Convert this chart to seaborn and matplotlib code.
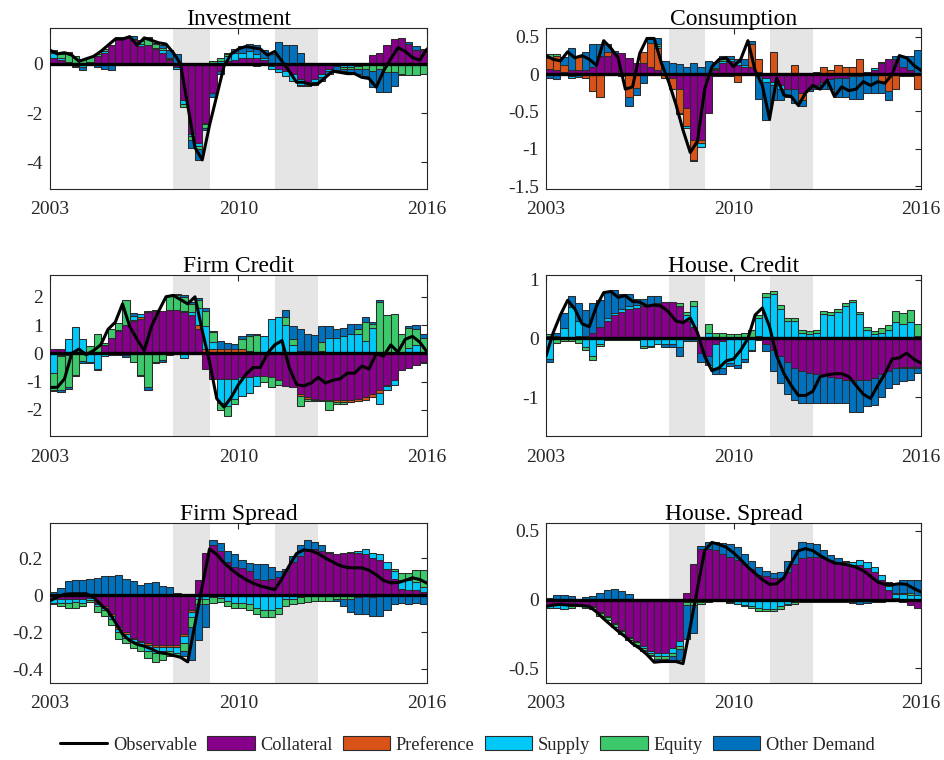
import numpy as np
import matplotlib
matplotlib.use("Agg")
import matplotlib.pyplot as plt
from matplotlib.patches import Patch, Rectangle
from matplotlib.lines import Line2D
import seaborn as sns

# ------------------------------------------------------------------ data
component_names = ["Collateral", "Preference", "Supply", "Equity", "Other Demand"]
component_colors = ["#87008a", "#d95319", "#00c8f8", "#3cc96c", "#0072bd"]
tick_years = ["2003", "2010", "2016"]
tick_quarters = [0, 26, 52]           # quarter index of the year ticks
shade_spans = [(17, 22), (31, 37)]     # shaded periods (quarter index)

# ---- Investment
inv_collateral = [0.25, 0.15, 0.08, 0.03, 0.0, 0.07, 0.3, 0.45, 0.75, 1.0, 1.05, 1.0, 0.7, 0.75, 0.6, 0.45, 0.15, -0.15, -1.45, -2.85, -3.2, -2.4, -1.2, -0.3, 0.1, 0.15, 0.25, 0.25, 0.25, 0.15, -0.1, -0.2, -0.3, -0.4, -0.6, -0.75, -0.6, -0.4, -0.2, 0.05, 0.0, 0.0, 0.0, 0.05, 0.35, 0.45, 0.75, 1.0, 1.05, 0.8, 0.55, 0.55]
inv_preference = [0.0, 0.0, 0.0, 0.0, 0.0, 0.0, 0.0, 0.0, 0.0, 0.0, 0.0, 0.0, 0.0, 0.0, 0.0, 0.0, 0.0, 0.0, 0.0, 0.0, 0.0, 0.0, 0.0, 0.0, 0.0, 0.0, 0.0, 0.0, 0.0, 0.0, 0.0, 0.0, 0.0, 0.0, 0.0, 0.0, 0.0, 0.0, 0.0, 0.0, 0.0, 0.0, 0.0, 0.0, 0.0, 0.0, 0.0, 0.0, 0.0, 0.0, 0.0, 0.0]
inv_supply = [0.2, 0.1, -0.02, -0.1, -0.15, -0.02, -0.02, 0.05, -0.02, 0.02, 0.0, 0.02, 0.1, 0.03, 0.05, 0.1, 0.05, -0.05, -0.2, -0.1, -0.15, -0.05, 0.05, 0.1, 0.2, 0.3, 0.2, 0.25, 0.15, 0.1, -0.1, -0.12, -0.2, -0.3, -0.25, -0.1, -0.15, -0.15, -0.1, -0.1, -0.15, -0.15, -0.1, -0.05, -0.05, 0.0, 0.0, 0.0, 0.0, 0.0, 0.0, 0.0]
inv_equity = [0.05, 0.15, 0.35, 0.3, 0.2, 0.2, 0.1, 0.1, 0.03, 0.05, -0.05, -0.03, 0.12, 0.25, 0.15, 0.1, 0.05, 0.05, -0.1, -0.15, -0.1, -0.15, 0.05, 0.15, 0.1, 0.0, -0.03, -0.05, -0.08, -0.05, 0.0, 0.0, 0.0, 0.0, -0.05, 0.0, 0.0, 0.0, 0.0, 0.0, -0.05, -0.05, -0.1, -0.15, -0.25, -0.2, -0.35, -0.35, -0.4, -0.45, -0.45, -0.4]
inv_other = [0.05, -0.03, 0.04, -0.05, -0.1, -0.05, -0.1, -0.2, -0.22, -0.05, 0.03, 0.12, 0.05, 0.05, 0.03, 0.1, 0.3, 0.35, 0.05, -0.3, -0.45, -0.1, -0.15, -0.1, 0.05, 0.15, 0.25, 0.3, 0.35, 0.3, 0.4, 0.9, 0.75, 0.75, 0.45, -0.05, -0.1, -0.15, -0.1, -0.15, -0.1, -0.15, -0.2, -0.3, -0.65, -0.95, -0.8, -0.55, -0.05, 0.1, 0.15, 0.05]
inv_observable = [0.55, 0.4, 0.45, 0.35, 0.1, 0.2, 0.3, 0.5, 0.75, 1.0, 1.0, 1.1, 0.75, 1.05, 0.95, 0.85, 0.8, 0.45, 0.0, -1.7, -3.4, -3.9, -2.5, -1.3, -0.1, 0.4, 0.6, 0.7, 0.65, 0.6, 0.35, 0.5, 0.1, -0.3, -0.75, -0.75, -0.85, -0.8, -0.55, -0.3, -0.35, -0.4, -0.4, -0.55, -0.6, -0.95, -0.3, 0.2, 0.65, 0.5, 0.25, 0.15, 0.6]

# ---- Consumption
con_collateral = [0.07, 0.05, 0.03, 0.05, 0.05, 0.05, 0.1, 0.25, 0.25, 0.28, 0.28, 0.22, 0.15, 0.15, 0.1, 0.05, 0.0, -0.05, -0.2, -0.45, -0.88, -0.88, -0.52, 0.05, 0.15, 0.18, 0.12, 0.1, 0.1, 0.03, -0.05, -0.1, -0.15, -0.2, -0.2, -0.25, -0.2, -0.15, -0.1, -0.07, -0.05, -0.05, -0.03, -0.03, 0.03, 0.05, 0.15, 0.2, 0.2, 0.1, 0.05, 0.0]
con_preference = [0.15, 0.2, 0.1, -0.03, 0.18, -0.05, -0.22, -0.3, 0.05, 0.0, 0.0, -0.3, -0.18, 0.15, 0.32, 0.3, -0.05, -0.15, -0.32, -0.25, -0.27, -0.04, 0.0, -0.02, -0.03, -0.02, -0.1, 0.0, 0.3, 0.17, 0.0, 0.3, 0.0, 0.0, 0.12, -0.1, 0.0, 0.03, 0.1, 0.05, 0.13, 0.1, 0.1, 0.2, 0.0, 0.0, -0.1, -0.22, -0.2, -0.03, -0.02, -0.2]
con_supply = [0.0, 0.0, 0.0, -0.02, 0.0, 0.0, 0.0, 0.0, 0.0, 0.0, 0.0, 0.0, 0.0, 0.0, 0.0, 0.03, 0.0, 0.0, -0.01, -0.02, -0.02, -0.05, 0.0, 0.02, 0.03, 0.02, 0.05, 0.03, 0.0, -0.03, -0.05, -0.05, -0.05, 0.0, 0.0, 0.0, 0.0, 0.0, 0.0, 0.0, 0.0, 0.0, 0.0, 0.0, 0.0, 0.03, 0.02, 0.0, 0.0, 0.0, 0.0, 0.0]
con_equity = [0.05, 0.02, 0.0, 0.0, 0.0, 0.0, 0.0, 0.0, 0.0, 0.0, 0.0, 0.0, 0.0, 0.0, 0.0, 0.02, 0.0, 0.0, 0.0, 0.0, 0.0, 0.0, 0.0, 0.02, 0.02, 0.0, 0.0, 0.0, 0.0, 0.0, 0.0, 0.0, 0.0, 0.0, 0.0, 0.0, 0.0, 0.0, 0.0, 0.0, 0.0, 0.0, 0.0, 0.0, 0.0, 0.0, 0.0, 0.0, 0.0, 0.0, 0.0, 0.0]
con_other = [-0.05, -0.06, 0.1, 0.3, -0.04, 0.25, 0.3, 0.15, 0.1, 0.03, -0.02, -0.12, -0.1, -0.12, 0.05, 0.08, 0.18, 0.15, 0.14, 0.1, 0.15, 0.1, 0.18, 0.08, 0.05, 0.05, 0.04, 0.07, 0.05, -0.3, -0.52, -0.2, -0.15, -0.1, -0.18, -0.08, -0.03, -0.05, -0.1, -0.13, -0.25, -0.25, -0.3, -0.3, -0.25, -0.25, -0.15, -0.13, 0.05, 0.15, 0.2, 0.33]
con_observable = [0.25, 0.2, 0.18, 0.3, 0.22, 0.25, 0.2, 0.12, 0.45, 0.35, 0.22, -0.2, -0.17, 0.28, 0.48, 0.48, 0.15, -0.1, -0.4, -0.75, -1.05, -0.9, -0.2, 0.1, 0.2, 0.22, 0.1, 0.2, 0.45, 0.05, -0.15, -0.6, -0.05, -0.28, -0.3, -0.42, -0.25, -0.15, -0.2, -0.08, -0.3, -0.17, -0.22, -0.2, -0.1, -0.15, -0.1, -0.12, 0.0, 0.25, 0.22, 0.12, 0.05]

# ---- Firm Credit
fc_collateral = [0.15, 0.15, 0.05, 0.03, 0.0, 0.0, 0.0, 0.3, 0.55, 0.8, 1.0, 1.15, 1.2, 1.45, 1.5, 1.5, 1.55, 1.55, 1.45, 1.35, 0.85, -0.55, -0.9, -0.9, -0.9, -0.9, -0.85, -0.85, -0.8, -0.8, -0.85, -0.95, -1.15, -1.2, -1.45, -1.55, -1.6, -1.65, -1.65, -1.65, -1.65, -1.65, -1.6, -1.55, -1.45, -1.3, -1.1, -0.95, -0.6, -0.5, -0.4, -0.3]
fc_preference = [-0.03, -0.05, -0.05, 0.0, 0.0, 0.0, 0.0, 0.0, 0.0, 0.0, 0.0, 0.03, 0.1, 0.05, 0.0, 0.0, 0.0, 0.0, 0.05, 0.0, 0.15, 0.15, 0.15, 0.15, 0.15, 0.15, 0.15, 0.1, 0.05, 0.0, 0.0, 0.0, 0.0, 0.0, -0.05, -0.05, -0.05, -0.05, -0.05, -0.08, -0.08, -0.08, -0.1, -0.1, -0.1, -0.1, -0.05, 0.0, 0.0, 0.0, 0.0, 0.0]
fc_supply = [-0.65, -0.05, 0.45, 0.9, 0.5, -0.3, -0.55, -0.08, -0.05, 0.02, -0.05, 0.15, 0.1, 0.0, 0.03, 0.0, -0.05, 0.0, -0.15, 0.1, 0.6, 0.8, 0.25, -0.85, -0.95, -0.7, -0.65, -0.55, -0.35, 0.6, 1.2, 1.3, 1.0, 0.3, 0.1, 0.1, 0.05, 0.1, 0.55, 0.55, 0.6, 0.7, 0.7, 0.45, 0.9, -0.4, -0.15, -0.15, 0.0, 0.2, 0.3, -0.05]
fc_equity = [-0.6, -1.2, -1.15, -0.75, -0.28, 0.27, 0.7, 0.05, 0.3, 0.25, 0.9, -0.3, -0.75, -1.2, -0.3, -0.25, 0.5, 0.5, 0.5, 0.3, 0.3, 0.55, 0.35, -0.25, -0.35, -0.2, 0.35, 0.5, 0.6, -0.2, -0.35, -0.15, 0.3, 0.2, -0.35, -0.1, -0.05, 0.3, -0.3, -0.05, -0.07, 0.0, 0.15, 0.65, 0.15, 1.8, 1.35, 1.4, 0.7, 0.7, 0.55, 0.55]
fc_other = [-0.06, -0.05, -0.05, -0.05, -0.05, -0.05, -0.05, -0.02, 0.02, -0.05, -0.08, 0.08, -0.05, -0.1, -0.05, -0.05, 0.0, 0.05, 0.05, 0.05, 0.05, 0.1, 0.05, 0.27, 0.22, 0.18, 0.1, 0.1, 0.03, 0.0, 0.0, 0.0, 0.25, 0.45, 0.75, 0.6, 0.6, 0.55, 0.4, 0.3, 0.3, 0.35, 0.2, 0.2, 0.05, 0.1, 0.0, 0.0, 0.0, 0.05, 0.15, 0.15]
fc_observable = [-1.2, -1.2, -0.9, 0.0, 0.15, -0.05, 0.1, 0.3, 0.85, 1.1, 1.75, 0.95, 0.5, 0.1, 0.95, 1.5, 2.0, 2.05, 1.9, 1.75, 2.0, 0.8, -0.3, -1.6, -1.9, -1.55, -1.1, -0.75, -0.5, -0.5, 0.0, 0.3, 0.45, -0.5, -1.1, -1.15, -1.05, -0.85, -1.05, -0.95, -0.9, -0.7, -0.7, -0.45, -0.55, 0.0, -0.1, 0.3, 0.05, 0.5, 0.6, 0.4, 0.05]

# ---- House. Credit
hc_collateral = [0.05, 0.05, 0.03, 0.03, 0.05, 0.05, 0.1, 0.2, 0.3, 0.4, 0.45, 0.5, 0.52, 0.55, 0.57, 0.6, 0.62, 0.62, 0.55, 0.3, 0.2, -0.25, -0.3, -0.1, -0.05, 0.0, 0.0, 0.0, 0.02, 0.05, -0.1, -0.2, -0.3, -0.4, -0.5, -0.55, -0.58, -0.6, -0.62, -0.65, -0.68, -0.7, -0.7, -0.7, -0.7, -0.68, -0.6, -0.55, -0.5, -0.48, -0.48, -0.48]
hc_preference = [0.0, 0.0, 0.0, 0.0, 0.0, 0.0, 0.0, 0.0, 0.0, 0.0, 0.0, 0.0, 0.0, 0.0, 0.0, 0.0, 0.0, 0.0, 0.0, 0.0, 0.0, 0.0, 0.0, 0.0, 0.0, 0.0, 0.0, 0.0, 0.0, 0.0, 0.0, 0.0, 0.0, 0.0, 0.0, 0.0, 0.0, 0.0, 0.0, 0.0, 0.0, 0.0, 0.0, 0.0, 0.0, 0.0, 0.0, 0.0, 0.0, -0.02, -0.03, -0.02]
hc_supply = [-0.35, 0.0, 0.15, 0.5, 0.25, -0.15, -0.3, -0.1, 0.05, 0.03, 0.05, 0.05, 0.05, -0.13, -0.12, -0.1, -0.1, -0.1, -0.15, 0.1, 0.35, 0.02, 0.1, -0.4, -0.45, -0.42, -0.45, -0.35, -0.2, 0.3, 0.7, 0.75, 0.5, 0.3, 0.3, 0.1, 0.08, 0.1, 0.42, 0.4, 0.45, 0.55, 0.62, 0.42, 0.15, 0.08, 0.1, 0.15, 0.28, 0.25, 0.28, 0.05]
hc_equity = [0.03, -0.07, -0.05, -0.05, -0.07, -0.05, -0.07, -0.03, -0.03, -0.03, -0.03, -0.02, -0.02, -0.03, -0.03, 0.0, 0.0, 0.0, 0.05, 0.05, 0.08, 0.0, 0.15, 0.1, 0.1, 0.07, 0.08, 0.1, 0.12, 0.05, 0.07, 0.05, 0.07, 0.05, 0.05, 0.05, 0.04, 0.05, 0.05, 0.05, 0.05, 0.05, 0.03, 0.03, 0.05, 0.05, 0.08, 0.08, 0.18, 0.18, 0.2, 0.2]
hc_other = [-0.05, 0.05, 0.25, 0.2, 0.3, 0.43, 0.5, 0.45, 0.45, 0.4, 0.25, 0.2, 0.1, 0.12, 0.15, 0.12, -0.05, -0.05, -0.15, -0.05, -0.05, -0.15, -0.15, -0.1, -0.1, -0.05, -0.05, -0.05, -0.02, -0.02, -0.12, -0.35, -0.45, -0.55, -0.55, -0.55, -0.52, -0.5, -0.48, -0.45, -0.42, -0.4, -0.55, -0.55, -0.45, -0.45, -0.4, -0.3, -0.27, -0.23, -0.2, -0.08]
hc_observable = [-0.3, 0.1, 0.4, 0.65, 0.5, 0.25, 0.2, 0.55, 0.78, 0.8, 0.7, 0.73, 0.63, 0.62, 0.55, 0.57, 0.55, 0.45, 0.3, 0.27, 0.35, 0.1, -0.3, -0.55, -0.5, -0.38, -0.35, -0.2, 0.0, 0.4, 0.52, 0.2, -0.3, -0.6, -0.8, -0.97, -0.97, -0.9, -0.65, -0.62, -0.6, -0.6, -0.65, -0.8, -0.95, -1.02, -0.8, -0.6, -0.35, -0.33, -0.25, -0.35, -0.42]

# ---- Firm Spread
fs_collateral = [-0.02, -0.02, -0.02, -0.02, -0.02, -0.015, -0.04, -0.06, -0.1, -0.17, -0.2, -0.23, -0.245, -0.26, -0.27, -0.27, -0.27, -0.27, -0.21, -0.08, 0.08, 0.23, 0.27, 0.24, 0.18, 0.15, 0.145, 0.13, 0.085, 0.08, 0.09, 0.1, 0.13, 0.18, 0.21, 0.25, 0.25, 0.24, 0.23, 0.22, 0.23, 0.23, 0.23, 0.22, 0.2, 0.19, 0.14, 0.09, 0.035, 0.03, 0.03, 0.015]
fs_preference = [0.0, 0.0, 0.0, 0.0, 0.0, 0.0, -0.01, -0.01, -0.01, -0.01, -0.01, -0.005, -0.005, -0.01, -0.01, -0.01, -0.01, -0.01, -0.01, -0.01, 0.0, 0.0, 0.0, 0.0, 0.0, 0.0, 0.0, 0.0, 0.0, 0.0, 0.0, 0.0, 0.0, 0.0, 0.0, 0.0, 0.0, 0.0, 0.0, 0.0, 0.0, 0.0, 0.0, 0.0, 0.0, 0.0, 0.0, 0.0, 0.0, 0.0, 0.0, 0.0]
fs_supply = [-0.02, -0.02, -0.02, -0.015, -0.02, -0.01, -0.01, -0.01, -0.02, -0.02, -0.02, -0.02, -0.02, -0.03, -0.03, -0.02, -0.02, -0.03, -0.04, -0.03, -0.02, -0.02, -0.01, -0.015, -0.03, -0.04, -0.04, -0.05, -0.07, -0.08, -0.08, -0.07, -0.02, -0.02, -0.01, -0.005, 0.0, 0.0, 0.0, 0.0, 0.0, 0.005, 0.01, 0.03, 0.03, 0.035, 0.04, 0.04, 0.045, 0.05, 0.04, 0.03]
fs_equity = [-0.01, -0.02, -0.03, -0.035, -0.02, -0.01, -0.03, -0.03, -0.03, -0.035, -0.03, -0.03, -0.03, -0.04, -0.05, -0.05, -0.03, -0.02, -0.04, -0.05, -0.03, -0.03, -0.03, -0.02, -0.03, -0.03, -0.03, -0.03, -0.03, -0.04, -0.04, -0.03, -0.04, -0.03, -0.03, -0.03, -0.03, -0.03, -0.03, -0.02, -0.02, -0.02, -0.01, 0.0, -0.01, 0.0, 0.0, 0.01, 0.04, 0.04, 0.065, 0.09]
fs_other = [0.02, 0.04, 0.075, 0.08, 0.08, 0.09, 0.095, 0.105, 0.105, 0.11, 0.09, 0.075, 0.055, 0.065, 0.07, 0.05, 0.045, 0.01, -0.03, -0.18, -0.19, -0.12, 0.03, 0.04, 0.06, 0.07, 0.045, 0.045, 0.085, 0.09, 0.06, 0.03, 0.01, 0.03, 0.06, 0.05, 0.04, 0.03, 0.005, -0.01, -0.04, -0.07, -0.09, -0.1, -0.1, -0.11, -0.08, -0.05, -0.04, -0.05, -0.04, -0.05]
fs_observable = [-0.03, -0.01, 0.005, 0.008, 0.008, 0.008, -0.01, -0.05, -0.085, -0.145, -0.21, -0.245, -0.265, -0.275, -0.29, -0.31, -0.315, -0.325, -0.335, -0.36, -0.155, 0.05, 0.25, 0.22, 0.175, 0.14, 0.11, 0.085, 0.065, 0.05, 0.04, 0.03, 0.09, 0.16, 0.225, 0.245, 0.24, 0.225, 0.2, 0.18, 0.16, 0.15, 0.148, 0.148, 0.135, 0.11, 0.08, 0.067, 0.068, 0.08, 0.094, 0.085, 0.065]

# ---- House. Spread
hs_collateral = [-0.04, -0.03, -0.03, -0.03, -0.03, -0.04, -0.05, -0.09, -0.12, -0.17, -0.22, -0.27, -0.3, -0.34, -0.37, -0.39, -0.39, -0.35, -0.3, 0.05, 0.26, 0.37, 0.37, 0.36, 0.33, 0.31, 0.29, 0.26, 0.22, 0.18, 0.17, 0.16, 0.16, 0.2, 0.26, 0.3, 0.31, 0.31, 0.3, 0.29, 0.27, 0.26, 0.25, 0.25, 0.23, 0.2, 0.14, 0.07, 0.01, -0.02, -0.04, -0.06]
hs_preference = [0.0, 0.0, 0.0, 0.0, 0.0, 0.0, 0.0, 0.0, 0.0, 0.0, 0.0, 0.0, 0.0, 0.0, 0.0, 0.0, 0.0, 0.0, 0.0, 0.0, 0.0, 0.0, 0.0, 0.0, 0.0, 0.0, 0.0, 0.0, 0.0, 0.0, 0.0, 0.0, 0.0, 0.0, 0.0, 0.0, 0.0, 0.0, 0.0, 0.0, 0.0, 0.0, 0.0, 0.0, 0.0, 0.0, 0.0, 0.0, 0.0, 0.0, 0.0, 0.0]
hs_supply = [-0.02, -0.03, -0.035, -0.02, -0.01, -0.01, -0.005, -0.01, -0.01, -0.01, -0.01, -0.01, -0.01, -0.015, -0.02, -0.02, -0.02, -0.04, -0.04, -0.02, -0.02, -0.02, -0.01, -0.005, -0.01, -0.02, -0.03, -0.04, -0.05, -0.06, -0.07, -0.07, -0.05, -0.03, -0.02, -0.01, 0.0, 0.0, 0.0, -0.005, 0.0, 0.01, 0.025, 0.035, 0.04, 0.035, 0.04, 0.03, 0.03, 0.04, 0.03, 0.03]
hs_equity = [0.0, 0.0, 0.0, -0.01, -0.01, -0.01, -0.01, -0.02, -0.015, -0.02, -0.02, -0.015, -0.02, -0.01, -0.01, -0.02, -0.02, -0.02, -0.02, -0.02, -0.02, -0.01, -0.005, -0.005, 0.0, -0.005, -0.005, -0.01, -0.01, -0.02, -0.01, -0.01, -0.02, -0.01, -0.01, -0.01, -0.015, -0.015, -0.015, -0.015, -0.015, -0.015, -0.015, -0.01, -0.01, 0.0, 0.0, 0.0, 0.01, 0.01, 0.02, 0.0]
hs_other = [0.01, 0.035, 0.035, 0.025, 0.005, 0.015, 0.025, 0.045, 0.07, 0.075, 0.06, 0.04, -0.01, -0.01, -0.01, -0.02, -0.01, -0.03, -0.08, -0.25, -0.2, 0.02, 0.05, 0.06, 0.08, 0.09, 0.095, 0.07, 0.06, 0.055, 0.035, 0.03, 0.04, 0.08, 0.1, 0.115, 0.1, 0.09, 0.06, 0.035, 0.03, 0.01, -0.01, -0.02, -0.015, -0.015, -0.015, 0.03, 0.06, 0.09, 0.09, 0.11]
hs_observable = [-0.05, -0.04, -0.035, -0.04, -0.04, -0.045, -0.05, -0.09, -0.14, -0.185, -0.23, -0.27, -0.32, -0.355, -0.4, -0.455, -0.45, -0.45, -0.45, -0.465, -0.2, 0.08, 0.355, 0.415, 0.4, 0.38, 0.34, 0.29, 0.235, 0.19, 0.145, 0.11, 0.115, 0.16, 0.265, 0.355, 0.37, 0.355, 0.32, 0.29, 0.265, 0.26, 0.25, 0.235, 0.21, 0.17, 0.127, 0.11, 0.108, 0.115, 0.11, 0.08, 0.055]

panel_titles = ["Investment", "Consumption", "Firm Credit", "House. Credit", "Firm Spread", "House. Spread"]

# ------------------------------------------------------------------ style
sns.set_theme(style="white")
plt.rcParams["font.family"] = ["Liberation Serif", "DejaVu Serif"]
plt.rcParams["axes.unicode_minus"] = False

EDGE = "#2b2b2b"
AXCOL = "#262626"

panels = [
    (panel_titles[0], [inv_collateral, inv_preference, inv_supply, inv_equity, inv_other], inv_observable,
     [-4, -2, 0], (-5.08, 1.45)),
    (panel_titles[1], [con_collateral, con_preference, con_supply, con_equity, con_other], con_observable,
     [-1.5, -1, -0.5, 0, 0.5], (-1.54, 0.62)),
    (panel_titles[2], [fc_collateral, fc_preference, fc_supply, fc_equity, fc_other], fc_observable,
     [-2, -1, 0, 1, 2], (-2.92, 2.77)),
    (panel_titles[3], [hc_collateral, hc_preference, hc_supply, hc_equity, hc_other], hc_observable,
     [-1, 0, 1], (-1.66, 1.08)),
    (panel_titles[4], [fs_collateral, fs_preference, fs_supply, fs_equity, fs_other], fs_observable,
     [-0.4, -0.2, 0, 0.2], (-0.474, 0.39)),
    (panel_titles[5], [hs_collateral, hs_preference, hs_supply, hs_equity, hs_other], hs_observable,
     [-0.5, 0, 0.5], (-0.606, 0.556)),
]

W, H = 944, 760
fig = plt.figure(figsize=(W / 100, H / 100), dpi=100)
col_px = [(50, 377), (546, 375)]
row_px = [(28, 189), (275, 436), (523, 683)]


def draw_panel(ax, title, comps, obs, yticks, ylim):
    n = len(comps[0])
    bar_x = np.arange(n) + 0.5
    line_x = np.arange(len(obs))
    for a, b in shade_spans:
        ax.axvspan(a, b, color="#e5e5e5", lw=0, zorder=0)
    pos = np.zeros(n)
    neg = np.zeros(n)
    for vals, col in zip(comps, component_colors):
        v = np.asarray(vals, dtype=float)
        bottom = np.where(v >= 0, pos, neg)
        sns.barplot(x=bar_x, y=v, bottom=bottom, native_scale=True, orient="x",
                    width=1.0, color=col, saturation=1, edgecolor=EDGE,
                    linewidth=0.75, errorbar=None, ax=ax, zorder=2)
        pos += np.clip(v, 0, None)
        neg += np.clip(v, None, 0)
    for p in list(ax.patches):
        if isinstance(p, Rectangle) and p.get_height() == 0:
            p.remove()
    ax.axhline(0, color="black", lw=2.4, zorder=3)
    sns.lineplot(x=line_x, y=obs, color="black", linewidth=2.2, ax=ax, zorder=4,
                 errorbar=None)
    ax.set_xlim(0, n)
    ax.set_ylim(*ylim)
    ax.set_xticks(tick_quarters)
    ax.set_xticklabels(tick_years)
    ax.set_yticks(yticks)
    ax.set_yticklabels(["{:g}".format(t) for t in yticks])
    ax.set_xlabel("")
    ax.set_ylabel("")
    ax.set_title(title, fontsize=17, pad=2, color="black")
    ax.tick_params(axis="both", direction="in", length=4, width=0.8, top=True,
                   right=True, labelsize=14, colors=AXCOL)
    ax.tick_params(axis="x", pad=9)
    ax.tick_params(axis="y", pad=5)
    for s in ax.spines.values():
        s.set_visible(True)
        s.set_color(AXCOL)
        s.set_linewidth(0.8)
    ax.grid(False)


for i, (title, comps, obs, yticks, ylim) in enumerate(panels):
    r, c = divmod(i, 2)
    left, width = col_px[c]
    top, bottom = row_px[r]
    ax = fig.add_axes([left / W, 1 - bottom / H, width / W, (bottom - top) / H])
    draw_panel(ax, title, comps, obs, yticks, ylim)

handles = [Line2D([0], [0], color="black", lw=2.2)]
handles += [Patch(facecolor=c, edgecolor=EDGE, linewidth=0.8) for c in component_colors]
labels = ["Observable"] + component_names
fig.legend(handles, labels, loc="center", bbox_to_anchor=(0.495, 1 - 745 / H), ncol=6,
           frameon=False, fontsize=13.2, handlelength=2.6, handleheight=0.75,
           handletextpad=0.3, columnspacing=0.55)

fig.savefig("out.png", dpi=100)
